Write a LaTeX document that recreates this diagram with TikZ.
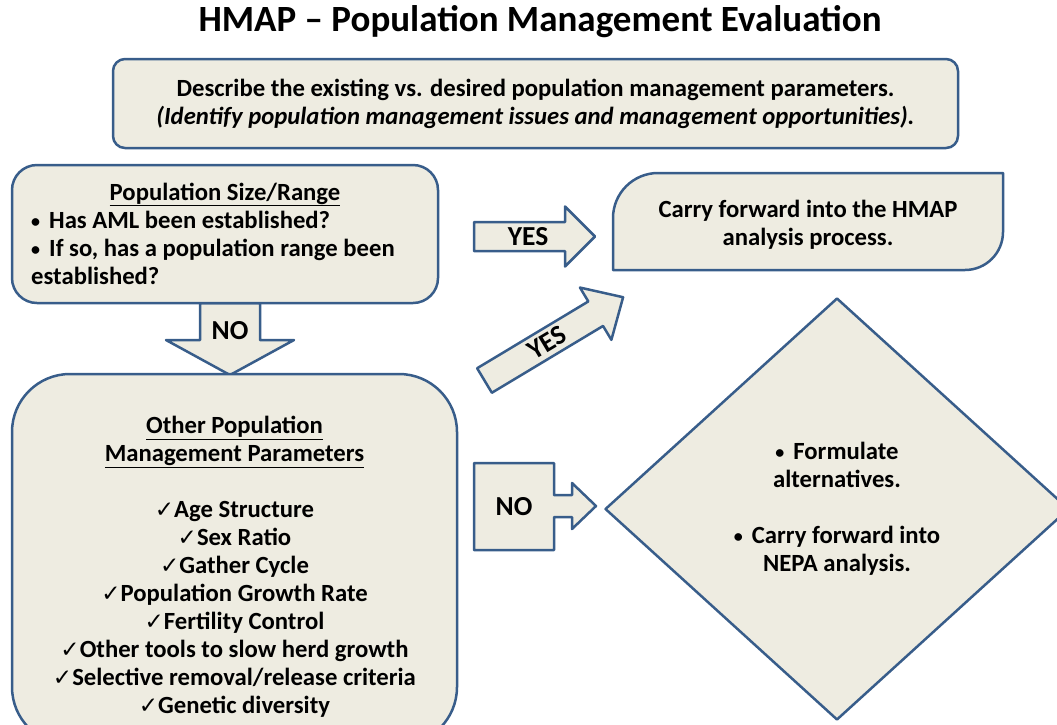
\documentclass[tikz,border=0pt]{standalone}
\usepackage{fontspec}
\setmainfont{Carlito}
\newfontfamily\symfont{DejaVu Sans}
\usetikzlibrary{shapes.geometric}
\definecolor{bord}{HTML}{385D8A}
\definecolor{tanfill}{HTML}{EEECE1}
\newcommand{\chk}{{\symfont\fontsize{23}{23}\selectfont ✓}}
\newcommand{\bul}{\raisebox{1.5pt}{\fontsize{18}{18}\selectfont •}}
\begin{document}
\begin{tikzpicture}[x=1pt,y=-1pt,
  shapebox/.style={draw=bord, fill=tanfill, line width=2.5pt, line join=round},
  txt/.style={font=\bfseries\fontsize{24.7}{28}\selectfont, align=center, inner sep=0pt},
  lbl/.style={font=\bfseries\fontsize{27.5}{28}\selectfont, inner sep=0pt},
]
\useasboundingbox (0,0) rectangle (1057,724);
\clip (0,0) rectangle (1057,724);

% title
\node[font=\bfseries\fontsize{37}{40}\selectfont, inner sep=0pt] (title) at (540,22) {HMAP – Population Management Evaluation};

% top description box
\node[shapebox, rounded corners=12pt, minimum width=845pt, minimum height=89pt, txt] (desc) at (535.5,103.5)
  {Describe the existing vs. desired population management parameters.\\
   \textit{(Identify population management issues and management opportunities).}};

% NO down arrow
\draw[shapebox] (200,303) -- (200,340) -- (166,340) -- (230,375) -- (294,340) -- (260,340) -- (260,303) -- cycle;
\node[lbl] (nodown) at (230,331) {NO};

% population size box
\node[shapebox, rounded corners=25pt, minimum width=426pt, minimum height=138pt] (psize) at (225,234) {};
\node[txt, anchor=base] (psizehead) at (225,200) {\underline{Population Size/Range}};
\node[txt, align=left, anchor=north west] (psizetxt) at (31,211)
  {\bul\hspace{9pt}Has AML been established?\\
   \bul\hspace{9pt}If so, has a population range been\\
   established?};

% carry forward box
\draw[shapebox] (613,270) -- (613,218) .. controls (613,193.2) and (633.2,173) .. (658,173)
  -- (1003,173) -- (1003,232) .. controls (1003,253) and (986,270) .. (965,270) -- cycle;
\node[txt] (carry) at (808,225) {Carry forward into the HMAP\\ analysis process.};

% YES arrow horizontal
\begin{scope}[shift={(474,236.5)}]
\draw[shapebox] (0,-14.5) -- (91,-14.5) -- (91,-30) -- (121,0) -- (91,30) -- (91,14.5) -- (0,14.5) -- cycle;
\node[lbl] (yes1) at (54,0) {YES};
\end{scope}

% YES arrow diagonal
\begin{scope}[shift={(484.5,380.5)}, rotate=31]
\draw[shapebox] (0,-14.3) -- (129.7,-14.3) -- (129.7,-30.5) -- (161.7,0) -- (129.7,30.5) -- (129.7,14.3) -- (0,14.3) -- cycle;
\node[lbl, rotate=31] (yes2) at (73,0) {YES};
\end{scope}

% other parameters box
\draw[shapebox, rounded corners=58pt] (12,374) rectangle (457,745);
\node[txt] (other) at (234.5,567)
  {\underline{Other Population}\\
   \underline{Management Parameters}\\[28pt]
   \chk Age Structure\\
   \chk Sex Ratio\\
   \chk Gather Cycle\\
   \chk Population Growth Rate\\
   \chk Fertility Control\\
   \chk Other tools to slow herd growth\\
   \chk Selective removal/release criteria\\
   \chk Genetic diversity};

% NO right callout arrow
\draw[shapebox] (474,463) -- (554,463) -- (554,495) -- (572,495) -- (572,483) -- (596,506)
  -- (572,529) -- (572,517) -- (554,517) -- (554,550) -- (474,550) -- cycle;
\node[lbl] (noright) at (514,507) {NO};

% diamond
\node[shapebox, diamond, minimum width=464pt, minimum height=422pt, txt] (alt) at (837,509)
  {\bul\hspace{9pt}Formulate\\
   alternatives.\\[28pt]
   \bul\hspace{9pt}Carry forward into\\
   NEPA analysis.};
\end{tikzpicture}
\end{document}
